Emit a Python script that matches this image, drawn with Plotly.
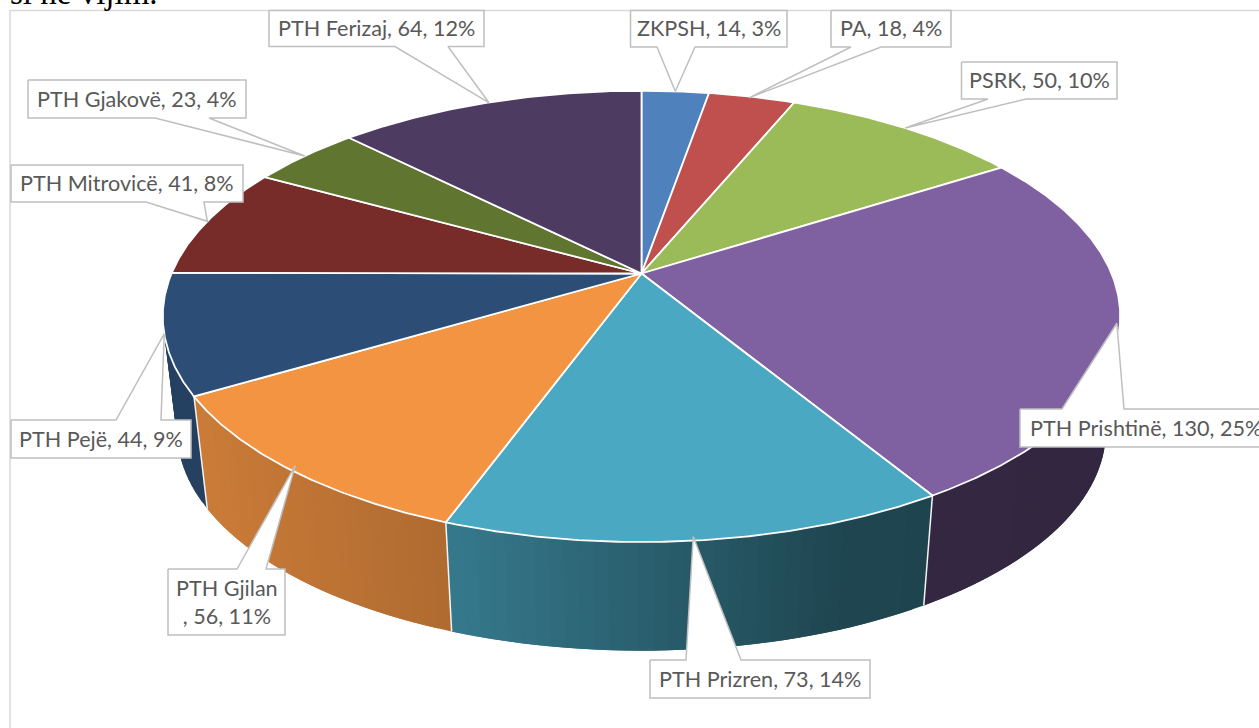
import numpy as np
import plotly.graph_objects as go

# ---- data ----
categories = ["ZKPSH", "PA", "PSRK", "PTH Prishtinë", "PTH Prizren", "PTH Gjilan",
              "PTH Pejë", "PTH Mitrovicë", "PTH Gjakovë", "PTH Ferizaj"]
values = [14, 18, 50, 130, 73, 56, 44, 41, 23, 64]
percents = [3, 4, 10, 25, 14, 11, 9, 8, 4, 12]

# ---- styles ----
top_colors = ["#4f81bd", "#c0504d", "#9bbb59", "#7f60a0", "#4aa8c3",
              "#f39443", "#2c4d75", "#772c2a", "#5f7530", "#4d3b62"]
LINE = "#bfbfbf"
TEXT = "#595959"
FONT = "Lato"

# perspective projection of the pie (page pixels)
CX, K = 641.5, 0.19
TOP = dict(a=470.0, b=217.5, cy=273.5)
BOT = dict(a=456.0, b=212.0, cy=389.0)


def project(theta_deg, ring, r=1.0):
    t = np.radians(theta_deg)
    s, c = r * np.sin(t), r * np.cos(t)
    w = 1 + K * c
    return CX + ring["a"] * s / w, ring["cy"] - ring["b"] * c / w


def hexrgb(h):
    return np.array([int(h[i:i + 2], 16) for i in (1, 3, 5)], float)


def shade(col, x):
    f = np.interp(x, [205, 450, 850, 1100], [0.83, 0.72, 0.41, 0.40])
    r, g, b = hexrgb(col) * f
    return f"rgb({r:.0f},{g:.0f},{b:.0f})"


total = sum(values)
cum = np.concatenate([[0], np.cumsum(values)]) / total * 360.0

fig = go.Figure()


def poly(xs, ys, fill=None, color=None, width=1.0):
    fig.add_trace(go.Scatter(
        x=list(xs), y=list(ys), mode="lines", hoverinfo="skip", showlegend=False,
        fill="toself" if fill else None, fillcolor=fill,
        line=dict(color=color or "rgba(0,0,0,0)", width=width)))


# frame
poly([10, 10, 1262], [728, 10.5, 10.5], color="#d9d9d9", width=1.5)

# side walls: overlapping thin strips so the shading runs across each slice
STEP = 1.5
for i, col in enumerate(top_colors):
    a0, a1 = max(cum[i], 85), min(cum[i + 1], 275)
    if a1 <= a0:
        continue
    starts = np.arange(a0, a1, STEP)
    for p in starts:
        q = min(p + 2 * STEP, a1)
        th = np.linspace(p, q, 4)
        xt, yt = project(th, TOP)
        xb, yb = project(th[::-1], BOT)
        xm = float(project(p + STEP / 2, TOP)[0])
        c = shade(col, xm) if col != "#2c4d75" else "#254061"
        poly([*xt, *xb, xt[0]], [*yt, *yb, yt[0]], fill=c, width=0)

# seams between wall slices
for a in cum[1:-1]:
    if 100 < a < 250:
        x1, y1 = project(a, TOP)
        x2, y2 = project(a, BOT)
        poly([x1, x2], [y1, y2], color="#f4f4f4", width=1.5)

# top faces
for i, col in enumerate(top_colors):
    th = np.linspace(cum[i], cum[i + 1], max(int(values[i]) * 2, 8))
    xs, ys = project(th, TOP)
    poly([CX, *xs, CX], [TOP["cy"], *ys, TOP["cy"]], fill=col, color="#ffffff", width=1.8)

# callouts: box (left, right, top, bottom), wedge base x0, x1, tip nudge dx, dy
boxes = [
    (630.5, 787, 10.5, 47, 657, 695, 0, 0),
    (831, 951, 10.5, 47, 851, 881, -3, 1),
    (961.5, 1117, 62, 99, 988, 1026, 0, 0),
    (1020, 1275, 409, 447, 1062, 1124, -3, -2),
    (650, 870, 660, 698, 686, 741, -5, -4),
    (168, 285, 569, 635, 237, 266, 5, -4),
    (11, 191, 420, 458, 116, 161, 0, 0),
    (11, 243, 165, 202, 146, 204, 0, 0),
    (28, 246, 80, 118, 155, 209, 0, 0),
    (269, 484, 10.5, 46.5, 395, 448, 0, 0),
]
top_side = {3, 4, 5, 6}  # wedge leaves the box from its top edge

annotations = []
for i, (l, r, t, b, w0, w1, dx, dy) in enumerate(boxes):
    tx, ty = project((cum[i] + cum[i + 1]) / 2, TOP)
    tx, ty = tx + dx, ty + dy
    if i in top_side:
        xs = [l, w0, tx, w1, r, r, l, l]
        ys = [t, t, ty, t, t, b, b, t]
    else:
        xs = [l, r, r, w1, tx, w0, l, l]
        ys = [t, t, b, b, ty, b, b, t]
    poly(xs, ys, fill="#ffffff", color=LINE, width=1.5)
    txt = f"{categories[i]}, {values[i]}, {percents[i]}%"
    if categories[i] == "PTH Gjilan":
        txt = f"{categories[i]}<br>, {values[i]}, {percents[i]}%"
    if i == 3:
        annotations.append(dict(x=1027.5, y=(t + b) / 2 - 0.5, text=txt, xanchor="left", yanchor="middle"))
    else:
        annotations.append(dict(x=(l + r) / 2, y=(t + b) / 2 - 0.5, text=txt, xanchor="center", yanchor="middle"))

for a in annotations:
    a.update(xref="x", yref="y", showarrow=False, align="center",
             font=dict(family=FONT, size=21.6, color=TEXT))

annotations.append(dict(x=9, y=12, xref="x", yref="y", text="si në vijim.", showarrow=False,
                        xanchor="left", yanchor="bottom", borderpad=0,
                        font=dict(family="Liberation Serif", size=33, color="#000000")))

fig.update_layout(
    width=1259, height=728, margin=dict(l=0, r=0, t=0, b=0),
    paper_bgcolor="#ffffff", plot_bgcolor="#ffffff", showlegend=False,
    xaxis=dict(range=[0, 1259], visible=False, fixedrange=True),
    yaxis=dict(range=[728, 0], visible=False, fixedrange=True),
    annotations=annotations,
)
fig.write_html("out.html", config=dict(displayModeBar=False),
               post_script="document.body.style.margin='0';")
